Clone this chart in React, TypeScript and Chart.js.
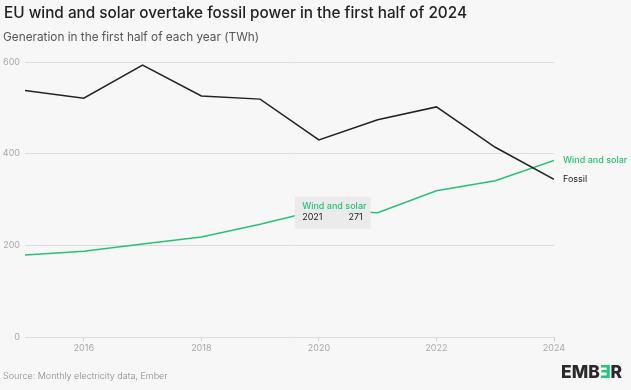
import React, { useEffect, useRef } from "react";
import { Chart, registerables } from "chart.js";

Chart.register(...registerables);

const years = [2015, 2016, 2017, 2018, 2019, 2020, 2021, 2022, 2023, 2024];
const fossil = [538, 521, 593, 526, 519, 430, 474, 502, 414, 344];
const windSolar = [179, 187, 203, 218, 246, 277, 271, 319, 341, 385];
const xTickYears = [2016, 2018, 2020, 2022, 2024];
const yTicks = [0, 200, 400, 600];
const tooltipYear = 2021;

const GREEN = "#27c07a";
const DARK = "#222222";
const FONT = "Inter, 'Noto Sans', sans-serif";

export default function App() {
  const ref = useRef<HTMLCanvasElement | null>(null);

  useEffect(() => {
    if (!ref.current) return;
    const overlay = {
      id: "overlay",
      afterDatasetsDraw(chart: any) {
        const { ctx } = chart;
        const xs = chart.scales.x;
        const ys = chart.scales.y;
        ctx.save();
        // end labels
        const li = years.length - 1;
        ctx.font = `500 9px ${FONT}`;
        ctx.textBaseline = "middle";
        ctx.textAlign = "left";
        ctx.fillStyle = GREEN;
        ctx.fillText("Wind and solar", xs.getPixelForValue(years[li]) + 9, ys.getPixelForValue(windSolar[li]));
        ctx.fillStyle = DARK;
        ctx.font = `400 9px ${FONT}`;
        ctx.fillText("Fossil", xs.getPixelForValue(years[li]) + 9, ys.getPixelForValue(fossil[li]));
        // tooltip
        const ti = years.indexOf(tooltipYear);
        const px = xs.getPixelForValue(years[ti]);
        const py = ys.getPixelForValue(windSolar[ti]);
        const bx = px - 83;
        const by = py - 16;
        ctx.fillStyle = "rgba(234,234,234,0.97)";
        ctx.fillRect(bx, by, 76, 32);
        ctx.font = `500 9px ${FONT}`;
        ctx.fillStyle = GREEN;
        ctx.textAlign = "left";
        ctx.fillText("Wind and solar", bx + 7.5, py - 6.5);
        ctx.font = `400 9px ${FONT}`;
        ctx.fillStyle = DARK;
        ctx.fillText(String(years[ti]), bx + 7.5, py + 4.5);
        ctx.textAlign = "right";
        ctx.fillText(String(windSolar[ti]), bx + 68, py + 4.5);
        ctx.restore();
      },
    };

    const chart = new Chart(ref.current, {
      type: "line",
      data: {
        datasets: [
          {
            label: "Fossil",
            data: years.map((y, i) => ({ x: y, y: fossil[i] })),
            borderColor: DARK,
            borderWidth: 1.5,
            pointRadius: 0,
            tension: 0,
          },
          {
            label: "Wind and solar",
            data: years.map((y, i) => ({ x: y, y: windSolar[i] })),
            borderColor: GREEN,
            borderWidth: 1.5,
            pointRadius: 0,
            tension: 0,
          },
        ],
      },
      options: {
        responsive: false,
        animation: false,
        events: [],
        layout: { padding: { top: 62, right: 77, left: 0, bottom: 0 } },
        plugins: { legend: { display: false }, tooltip: { enabled: false } },
        scales: {
          x: {
            type: "linear",
            min: years[0],
            max: years[years.length - 1],
            afterBuildTicks: (scale: any) => {
              scale.ticks = xTickYears.map((v) => ({ value: v }));
            },
            afterFit: (scale: any) => {
              scale.height = 53;
            },
            grid: { drawOnChartArea: false, drawTicks: true, tickLength: 4, color: "#cfcfcf" },
            border: { display: false },
            ticks: {
              color: "#a8a8a8",
              font: { family: FONT, size: 9 },
              padding: 2,
              maxRotation: 0,
              autoSkip: false,
              callback: (v: any) => String(v),
            },
          },
          y: {
            min: 0,
            max: 600,
            afterBuildTicks: (scale: any) => {
              scale.ticks = yTicks.map((v) => ({ value: v }));
            },
            afterFit: (scale: any) => {
              scale.width = 25;
            },
            grid: { color: "#dcdcdc", drawTicks: false, lineWidth: 1 },
            border: { display: false },
            ticks: {
              color: "#a8a8a8",
              font: { family: FONT, size: 9 },
              padding: 5,
              callback: (v: any) => String(v),
            },
          },
        },
      },
      plugins: [overlay],
    });
    return () => chart.destroy();
  }, []);

  return (
    <div
      style={{
        position: "absolute",
        top: 0,
        left: 0,
        width: 631,
        height: 390,
        background: "#f7f7f7",
        fontFamily: FONT,
        overflow: "hidden",
      }}
    >
      <canvas ref={ref} width={631} height={390} style={{ position: "absolute", top: 0, left: 0 }} />
      <div
        style={{
          position: "absolute",
          left: 4,
          top: 3,
          fontSize: 15.3,
          lineHeight: "20px",
          fontWeight: 500,
          color: "#222",
          whiteSpace: "nowrap",
        }}
      >
        EU wind and solar overtake fossil power in the first half of 2024
      </div>
      <div
        style={{
          position: "absolute",
          left: 3,
          top: 29,
          fontSize: 11.8,
          lineHeight: "16px",
          color: "#555",
          whiteSpace: "nowrap",
        }}
      >
        Generation in the first half of each year (TWh)
      </div>
      <div
        style={{
          position: "absolute",
          left: 3,
          top: 369,
          fontSize: 9,
          lineHeight: "14px",
          fontWeight: 300,
          color: "#888",
          whiteSpace: "nowrap",
        }}
      >
        Source: Monthly electricity data, Ember
      </div>
      <div
        style={{
          position: "absolute",
          left: 561,
          top: 362,
          fontSize: 17.5,
          lineHeight: "20px",
          fontWeight: 800,
          color: "#2a2a2a",
          whiteSpace: "nowrap",
        }}
      >
        EMB
        <span style={{ display: "inline-block", transform: "scaleX(-1)", color: "#20c77e" }}>E</span>R
      </div>
    </div>
  );
}
